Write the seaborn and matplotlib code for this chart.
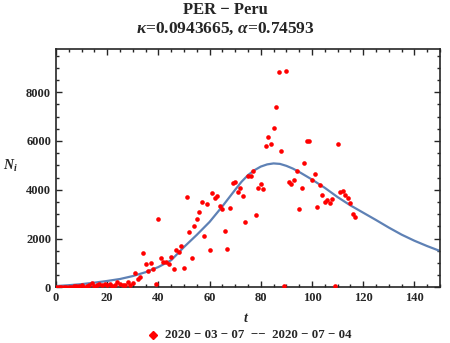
import matplotlib
matplotlib.use("Agg")
import matplotlib.pyplot as plt
from matplotlib.lines import Line2D
from matplotlib.ticker import MultipleLocator
import pandas as pd
import seaborn as sns

# daily new cases N_t, t = days since 2020-03-07
days = list(range(0, 118))
cases = [0, 10, 5, 20, 0, 15, 30, 40, 70, 40,
         90, 30, 60, 80, 164, 60, 100, 120, 80, 150,
         90, 120, 60, 100, 230, 135, 80, 100, 230, 107,
         164, 600, 328, 423, 1420, 968, 670, 1010, 738, 135,
         2814, 1215, 1050, 1050, 956, 1243, 763, 1543, 1460, 1707,
         804, 3717, 2256, 1215, 2527, 2790, 3100, 3512, 2117, 3430,
         1518, 3856, 3676, 3758, 3348, 3212, 2322, 1584, 3266, 4279,
         4320, 3910, 4074, 3758, 2691, 4566, 4566, 4783, 2978, 4074,
         4238, 4045, 5810, 6180, 5890, 6550, 7410, 8846, 5600, 53,
         8886, 4320, 4238, 4414, 4783, 3212, 4086, 5110, 6015, 6015,
         4414, 4648, 3307, 4197, 3800, 3512, 3594, 3471, 3635, 50,
         5890, 3922, 3963, 3800, 3676, 3471, 2995, 2896]

# fitted model curve
fit_t = [0, 5, 10, 15, 20, 25, 30, 35, 40, 45, 50, 55, 60, 65, 70, 72.5, 75,
         77.5, 80, 82.5, 85, 87.5, 90, 92.5, 95, 100, 105, 110, 115, 120, 125,
         130, 135, 140, 145, 150]
fit_n = [50, 85, 130, 190, 260, 340, 460, 620, 830, 1110, 1650, 2150, 2680,
         3320, 4000, 4330, 4600, 4800, 4950, 5040, 5080, 5060, 4980, 4870,
         4730, 4420, 4080, 3700, 3360, 3060, 2760, 2450, 2160, 1910, 1690, 1490]

title_top = "PER \u2212 Peru"
title_params = r"$\kappa$=0.0943665, $\alpha$=0.74593"
legend_label = "2020 \u2212 03 \u2212 07  \u2212\u2212  2020 \u2212 07 \u2212 04"

sns.set_style("ticks")
plt.rcParams["font.family"] = ["Liberation Serif", "DejaVu Serif"]
plt.rcParams["font.weight"] = "bold"
plt.rcParams["mathtext.fontset"] = "custom"
plt.rcParams["mathtext.rm"] = "Liberation Serif:bold"
plt.rcParams["mathtext.it"] = "Liberation Serif:italic:bold"
plt.rcParams["mathtext.bf"] = "Liberation Serif:bold"

df = pd.DataFrame({"t": days, "N": cases})
fit = pd.DataFrame({"t": fit_t, "N": fit_n})

fig = plt.figure(figsize=(4.5, 3.43), dpi=100)
ax = fig.add_axes([0.1244, 0.1624, 0.8533, 0.6939])

sns.lineplot(data=fit, x="t", y="N", color="#5E81B5", linewidth=1.6, ax=ax, zorder=2)
sns.scatterplot(data=df, x="t", y="N", color="#FF0000", s=11, linewidth=0,
                ax=ax, zorder=3, clip_on=True)

ax.set_xlim(0, 150)
ax.set_ylim(0, 9760)
ax.xaxis.set_major_locator(MultipleLocator(20))
ax.xaxis.set_minor_locator(MultipleLocator(5))
ax.yaxis.set_major_locator(MultipleLocator(2000))
ax.yaxis.set_minor_locator(MultipleLocator(500))
ax.tick_params(which="both", direction="in", top=True, right=True,
               labelsize=9, width=1)
ax.tick_params(which="major", length=4)
ax.tick_params(which="minor", length=2)
for lab in ax.get_xticklabels() + ax.get_yticklabels():
    lab.set_fontweight("bold")
for sp in ax.spines.values():
    sp.set_linewidth(1.2)

ax.set_xlabel("")
ax.set_ylabel("")
fig.text(246 / 450, 1 - 318 / 343, r"$t$", ha="center", va="center", fontsize=10)
fig.text(10 / 450, 1 - 166 / 343, r"$N_i$", ha="center", va="center", fontsize=10)

fig.text(0.5, 1 - 10 / 343, title_top, ha="center", va="center",
         fontsize=12, fontweight="bold")
fig.text(0.5, 1 - 29 / 343, title_params, ha="center", va="center",
         fontsize=12.5, fontweight="bold")

fig.add_artist(Line2D([153 / 450], [1 - 335 / 343], marker="D", color="#FF0000",
                      markersize=4, linestyle="none", transform=fig.transFigure))
fig.text(165 / 450, 1 - 335 / 343, legend_label, ha="left", va="center",
         fontsize=9.3, fontweight="bold")

fig.savefig("out.png", dpi=100)
